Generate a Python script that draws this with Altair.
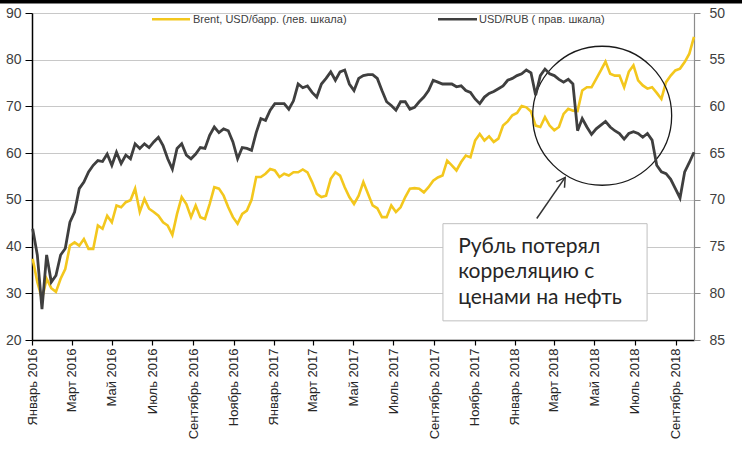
import altair as alt
import pandas as pd

# ---------------- data ----------------
start_date = "2016-01-02"
end_date = "2018-09-29"

brent = [37.4, 32.4, 28.8, 33.1, 31.1, 30.3, 33.1, 35.2, 40.2, 40.9,
         40.2, 41.6, 39.5, 39.5, 44.5, 43.8, 46.6, 45.2, 48.8, 48.4,
         49.5, 49.9, 52.4, 47.4, 50.2, 48.1, 47.4, 46.6, 45.2, 44.5,
         42.5, 47.0, 50.6, 49.1, 46.3, 48.8, 46.3, 45.9, 49.1, 52.7,
         52.4, 50.9, 48.4, 46.3, 44.9, 47.0, 47.7, 50.0, 54.9, 54.9,
         55.6, 56.6, 56.3, 54.9, 55.6, 55.2, 55.9, 55.9, 56.5, 55.9,
         53.8, 51.3, 50.6, 50.9, 54.5, 55.9, 55.2, 52.7, 50.6, 49.1,
         50.9, 53.8, 51.3, 48.8, 48.2, 46.3, 46.3, 48.8, 47.4, 48.4,
         50.6, 52.4, 52.5, 52.4, 51.6, 52.7, 54.1, 54.8, 55.2, 58.4,
         57.4, 56.3, 58.1, 59.5, 59.1, 62.7, 64.1, 62.7, 63.6, 62.4,
         63.1, 65.9, 66.8, 68.1, 68.6, 70.1, 69.8, 68.9, 65.9, 65.6,
         67.7, 65.9, 64.9, 65.6, 68.4, 69.5, 69.1, 69.0, 73.4, 74.1,
         74.1, 75.9, 77.7, 79.6, 77.0, 76.6, 76.6, 74.1, 77.4, 78.8,
         75.6, 74.5, 73.8, 74.1, 72.9, 71.6, 75.2, 76.6, 77.7, 78.1,
         79.5, 81.3, 84.9]

usdrub = [73.1, 75.9, 81.7, 75.9, 78.8, 78.1, 75.9, 75.2, 72.4, 71.3,
          68.8, 68.1, 67.0, 66.3, 65.8, 65.9, 65.1, 66.3, 64.9, 66.1,
          65.2, 65.6, 64.0, 64.5, 64.0, 64.4, 63.8, 63.3, 64.2, 65.6,
          66.7, 64.5, 64.0, 65.2, 65.6, 65.1, 64.4, 64.5, 63.1, 62.2,
          62.8, 62.4, 62.6, 63.8, 65.6, 64.4, 64.5, 64.7, 62.8, 61.3,
          61.5, 60.4, 59.7, 59.7, 59.7, 60.3, 59.4, 57.6, 58.0, 57.8,
          58.5, 59.0, 57.6, 57.0, 56.3, 57.2, 56.3, 56.1, 57.6, 58.3,
          57.0, 56.7, 56.6, 56.6, 57.0, 58.3, 59.5, 59.9, 60.4, 59.5,
          59.5, 60.3, 60.1, 59.5, 59.0, 58.3, 57.2, 57.4, 57.6, 57.6,
          57.6, 57.9, 57.8, 58.3, 58.5, 59.2, 59.7, 59.0, 58.6, 58.4,
          58.1, 57.8, 57.2, 57.0, 56.7, 56.5, 56.1, 56.4, 58.8, 56.7,
          56.0, 56.5, 56.7, 57.1, 57.4, 57.1, 57.6, 62.6, 61.3, 62.2,
          63.0, 62.4, 62.0, 61.6, 62.2, 62.6, 62.9, 63.5, 62.9, 62.7,
          62.9, 63.3, 62.9, 63.6, 66.3, 67.0, 67.2, 67.8, 68.8, 69.8,
          67.0, 66.0, 64.9]

month_names = ["Январь", "Февраль", "Март", "Апрель", "Май", "Июнь", "Июль",
               "Август", "Сентябрь", "Октябрь", "Ноябрь", "Декабрь"]
tick_months = [(2016, 1), (2016, 3), (2016, 5), (2016, 7), (2016, 9), (2016, 11),
               (2017, 1), (2017, 3), (2017, 5), (2017, 7), (2017, 9), (2017, 11),
               (2018, 1), (2018, 3), (2018, 5), (2018, 7), (2018, 9)]
left_ticks = [20, 30, 40, 50, 60, 70, 80, 90]
right_ticks = [50, 55, 60, 65, 70, 75, 80, 85]

legend_labels = ["Brent, USD/барр. (лев. шкала)", "USD/RUB ( прав. шкала)"]
note_text = "Рубль потерял\nкорреляцию с\nценами на нефть"

# annotation anchors (data units of the left axis)
circle_at = {"date": "2018-05-13", "v": 68.0}
box_at = {"date": "2017-09-14", "d2": "2018-07-20", "v": 24.1, "v2": 44.9}
note_at = {"date": "2017-10-07", "v": 38.7}
arrow_shaft = {"date": "2018-02-03", "v": 46.0, "d2": "2018-03-18", "v2": 54.8}
arrow_head = {"date": ["2018-03-04 14:00", "2018-03-18", "2018-03-17"],
              "v": [53.85, 54.8, 52.6], "k": [0, 1, 2]}

# ---------------- build chart ----------------
YELLOW = "#F3C71D"
DARK = "#3f3f3f"
FONT = "Liberation Sans"

dates = pd.date_range(start_date, end_date, periods=len(brent))
df = pd.DataFrame({"date": dates, "brent": brent, "usdrub": usdrub})

x_scale = alt.Scale(domain=[alt.DateTime(year=2016, month=1, date=1),
                            alt.DateTime(year=2018, month=9, date=29)])
left_scale = alt.Scale(domain=[20, 90], nice=False, zero=False)
right_scale = alt.Scale(domain=[50, 85], nice=False, zero=False, reverse=True)

names_js = "[" + ",".join("'%s'" % m for m in month_names) + "]"
x_axis = alt.Axis(
    values=[alt.DateTime(year=y, month=m, date=1) for y, m in tick_months],
    labelExpr=names_js + "[month(datum.value)] + ' ' + year(datum.value)",
    labelAngle=270, labelFont=FONT, labelFontSize=13, labelColor="#262626",
    labelPadding=3, labelOverlap=False, labelFlush=False,
    domainColor="#000000", domainWidth=1.5, tickColor="#000000",
    tickSize=5, tickWidth=1.2, grid=False, title=None,
)
left_axis = alt.Axis(
    values=left_ticks, orient="left", grid=True, gridColor="#c8c8c8",
    gridWidth=1, domainColor="#000000", domainWidth=1.5, tickColor="#000000",
    tickSize=7, labelFont=FONT, labelFontSize=14, labelColor="#404040",
    labelPadding=4, title=None,
)
right_axis = alt.Axis(
    values=right_ticks, orient="right", grid=False, domainColor="#8c8c8c",
    domainWidth=1.2, tickColor="#8c8c8c", tickSize=6, labelFont=FONT,
    labelFontSize=14, labelColor="#404040", labelPadding=9, title=None,
)


def xa(field="date"):
    return alt.X(field, type="temporal", scale=x_scale, axis=x_axis, title=None)


def ya(field="v"):
    return alt.Y(field, type="quantitative", scale=left_scale, axis=left_axis, title=None)


base = alt.Chart(df)
brent_line = base.mark_line(color=YELLOW, strokeWidth=2.6).encode(
    x=xa("date"), y=ya("brent"),
)
rub_line = base.mark_line(color=DARK, strokeWidth=2.8).encode(
    x=xa("date"),
    y=alt.Y("usdrub:Q", scale=right_scale, axis=right_axis, title=None),
)

box = alt.Chart(pd.DataFrame([box_at])).mark_rect(
    fill="white", stroke="#bfbfbf", strokeWidth=1
).encode(x=xa(), x2="d2", y=ya(), y2="v2")

note = alt.Chart(pd.DataFrame([{**note_at, "t": note_text}])).mark_text(
    align="left", baseline="alphabetic", font="Lato", fontSize=21,
    lineHeight=25.6, lineBreak="\n", color="#262626"
).encode(x=xa(), y=ya(), text="t:N")

circle = alt.Chart(pd.DataFrame([circle_at])).mark_point(
    shape="circle", size=139 ** 2, filled=False, stroke="#1a1a1a",
    strokeWidth=1.3, opacity=1
).encode(x=xa(), y=ya())

shaft = alt.Chart(pd.DataFrame([arrow_shaft])).mark_rule(
    color="#333333", strokeWidth=1.5
).encode(x=xa(), x2="d2", y=ya(), y2="v2")

head = alt.Chart(pd.DataFrame(arrow_head)).mark_line(
    color="#333333", strokeWidth=1.5
).encode(x=xa(), y=ya(), order="k:Q")

leg_df = pd.DataFrame({"t": legend_labels})
leg1_line = alt.Chart(leg_df.iloc[[0]]).mark_rule(color=YELLOW, strokeWidth=2.5).encode(
    x=alt.value(120), x2=alt.value(158), y=alt.value(6.3))
leg1_text = alt.Chart(leg_df.iloc[[0]]).mark_text(
    align="left", baseline="middle", font=FONT, fontSize=11, color="#404040"
).encode(x=alt.value(161), y=alt.value(6.5), text="t:N")
leg2_line = alt.Chart(leg_df.iloc[[1]]).mark_rule(color=DARK, strokeWidth=2.5).encode(
    x=alt.value(406), x2=alt.value(445), y=alt.value(6.3))
leg2_text = alt.Chart(leg_df.iloc[[1]]).mark_text(
    align="left", baseline="middle", font=FONT, fontSize=11, color="#404040"
).encode(x=alt.value(447), y=alt.value(6.5), text="t:N")

top_band = alt.Chart(leg_df.iloc[[0]]).mark_rect(color="#000000", opacity=1).encode(
    x=alt.value(-32), x2=alt.value(710), y=alt.value(-13), y2=alt.value(-9.4))

left_group = alt.layer(brent_line, box, note, circle, shaft, head,
                       leg1_line, leg1_text, leg2_line, leg2_text, top_band)

chart = alt.layer(left_group, rub_line).resolve_scale(y="independent").properties(
    width=662, height=327,
    autosize=alt.AutoSizeParams(type="none"),
    padding={"left": 32, "top": 13, "right": 48, "bottom": 109},
    background="white",
).configure_view(strokeWidth=0)

chart.save("out.html", embed_options={"renderer": "svg", "actions": False})
